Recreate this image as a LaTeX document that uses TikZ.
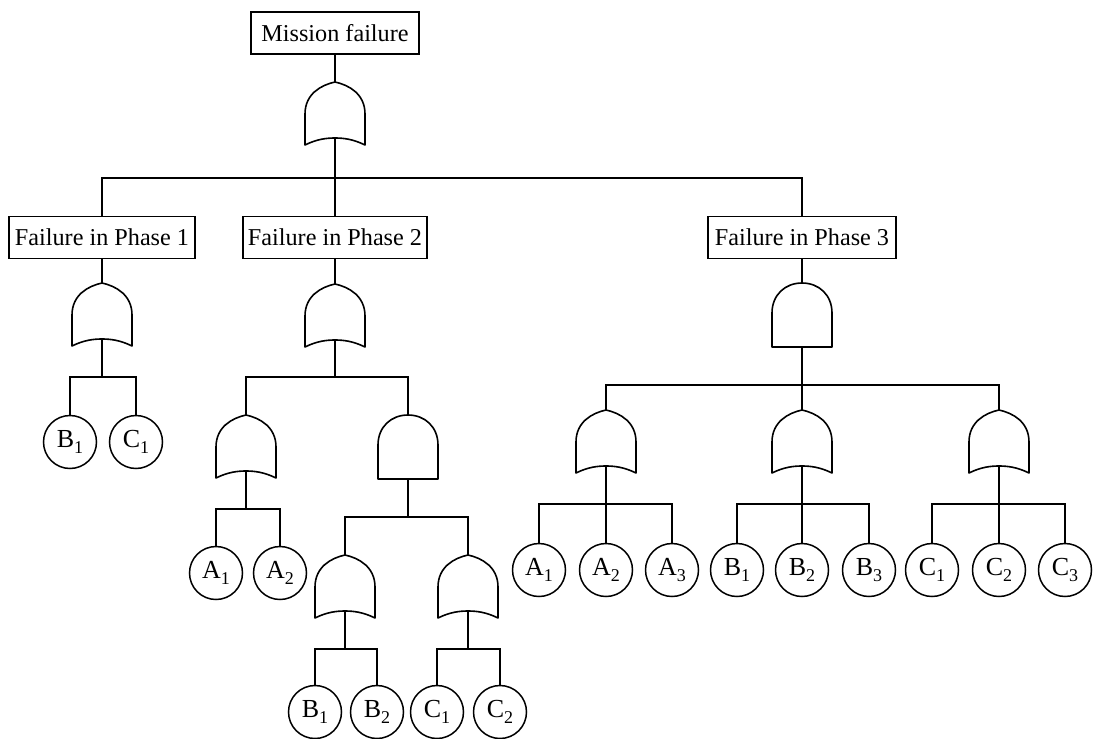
\documentclass[tikz,border=0pt]{standalone}
\usepackage{fontspec}
\setmainfont{Liberation Serif}
\newcommand\ev[2]{#1\raisebox{-0.22em}{\fontsize{18}{18}\selectfont #2}}
\tikzset{
  wire/.style={line width=1.6pt, line cap=rect},
  gateline/.style={line width=1.6pt, line join=round, fill=white},
  eventbox/.style={draw, line width=1.5pt, inner xsep=3pt, inner ysep=0pt,
    minimum height=42pt, font=\fontsize{24.2}{28}\selectfont},
  basic/.style={draw, circle, line width=1.5pt, inner sep=0pt, minimum size=53pt,
    font=\fontsize{26}{28}\selectfont},
  orgate/.pic={
    \draw[gateline] (0,0) .. controls (14,3) and (30,12) .. (30,32) -- (30,63)
      .. controls (18,57) and (8,56) .. (0,56)
      .. controls (-8,56) and (-18,57) .. (-30,63) -- (-30,32)
      .. controls (-30,12) and (-14,3) .. (0,0) -- cycle;
    \coordinate (-top) at (0,0);
    \coordinate (-bot) at (0,56);
  },
  andgate/.pic={
    \draw[gateline] (0,0) .. controls (17,0) and (30,12) .. (30,30) -- (30,64)
      -- (-30,64) -- (-30,30) .. controls (-30,12) and (-17,0) .. (0,0) -- cycle;
    \coordinate (-top) at (0,0);
    \coordinate (-bot) at (0,64);
  }
}
\begin{document}
\begin{tikzpicture}[x=1pt,y=-1pt]
\useasboundingbox (0,0) rectangle (1093,739);

% top event and phase events
\node[eventbox, minimum width=168pt] (top) at (335,33) {Mission failure};
\node[eventbox, minimum width=186pt] (p1) at (102,237.5) {Failure in Phase 1};
\node[eventbox, minimum width=184pt] (p2) at (335,237.5) {Failure in Phase 2};
\node[eventbox, minimum width=188pt] (p3) at (802,237.5) {Failure in Phase 3};

% gates
\pic (g0) at (335,82) {orgate};
\pic (g1) at (102,283) {orgate};
\pic (g2) at (335,284) {orgate};
\pic (g21) at (246,415) {orgate};
\pic (g22) at (408,415) {andgate};
\pic (g221) at (345,555) {orgate};
\pic (g222) at (468,555) {orgate};
\pic (g3) at (802,283) {andgate};
\pic (g31) at (606,410) {orgate};
\pic (g32) at (802,410) {orgate};
\pic (g33) at (999,410) {orgate};

% basic events
\node[basic] (e1b1) at (70,442) {\ev{B}{1}};
\node[basic] (e1c1) at (136,442) {\ev{C}{1}};
\node[basic] (e2a1) at (216,573) {\ev{A}{1}};
\node[basic] (e2a2) at (280,573) {\ev{A}{2}};
\node[basic] (e2b1) at (315,712) {\ev{B}{1}};
\node[basic] (e2b2) at (377,712) {\ev{B}{2}};
\node[basic] (e2c1) at (437,712) {\ev{C}{1}};
\node[basic] (e2c2) at (500,712) {\ev{C}{2}};
\node[basic] (e3a1) at (539,570) {\ev{A}{1}};
\node[basic] (e3a2) at (606,570) {\ev{A}{2}};
\node[basic] (e3a3) at (672,570) {\ev{A}{3}};
\node[basic] (e3b1) at (737,570) {\ev{B}{1}};
\node[basic] (e3b2) at (802,570) {\ev{B}{2}};
\node[basic] (e3b3) at (869,570) {\ev{B}{3}};
\node[basic] (e3c1) at (932,570) {\ev{C}{1}};
\node[basic] (e3c2) at (999,570) {\ev{C}{2}};
\node[basic] (e3c3) at (1065,570) {\ev{C}{3}};

% junction points of the branch bars
\coordinate (j0) at (335,178);
\coordinate (j1) at (102,377);
\coordinate (j2) at (335,377);
\coordinate (j21) at (246,509);
\coordinate (j22) at (408,517);
\coordinate (j221) at (345,649);
\coordinate (j222) at (468,649);
\coordinate (j3) at (802,385);
\coordinate (j31) at (606,504);
\coordinate (j32) at (802,504);
\coordinate (j33) at (999,504);

% top level
\draw[wire] (top.south) -- (g0-top);
\draw[wire] (g0-bot) -- (j0);
\draw[wire] (p1.north) |- (j0) -| (p3.north);
\draw[wire] (j0) -- (p2.north);

% phase 1
\draw[wire] (p1.south) -- (g1-top);
\draw[wire] (g1-bot) -- (j1);
\draw[wire] (e1b1.north) |- (j1) -| (e1c1.north);

% phase 2
\draw[wire] (p2.south) -- (g2-top);
\draw[wire] (g2-bot) -- (j2);
\draw[wire] (g21-top) |- (j2) -| (g22-top);
\draw[wire] (g21-bot) -- (j21);
\draw[wire] (e2a1.north) |- (j21) -| (e2a2.north);
\draw[wire] (g22-bot) -- (j22);
\draw[wire] (g221-top) |- (j22) -| (g222-top);
\draw[wire] (g221-bot) -- (j221);
\draw[wire] (e2b1.north) |- (j221) -| (e2b2.north);
\draw[wire] (g222-bot) -- (j222);
\draw[wire] (e2c1.north) |- (j222) -| (e2c2.north);

% phase 3
\draw[wire] (p3.south) -- (g3-top);
\draw[wire] (g3-bot) -- (j3);
\draw[wire] (g31-top) |- (j3) -| (g33-top);
\draw[wire] (j3) -- (g32-top);
\draw[wire] (g31-bot) -- (j31);
\draw[wire] (e3a1.north) |- (j31) -| (e3a3.north);
\draw[wire] (j31) -- (e3a2.north);
\draw[wire] (g32-bot) -- (j32);
\draw[wire] (e3b1.north) |- (j32) -| (e3b3.north);
\draw[wire] (j32) -- (e3b2.north);
\draw[wire] (g33-bot) -- (j33);
\draw[wire] (e3c1.north) |- (j33) -| (e3c3.north);
\draw[wire] (j33) -- (e3c2.north);
\end{tikzpicture}
\end{document}
